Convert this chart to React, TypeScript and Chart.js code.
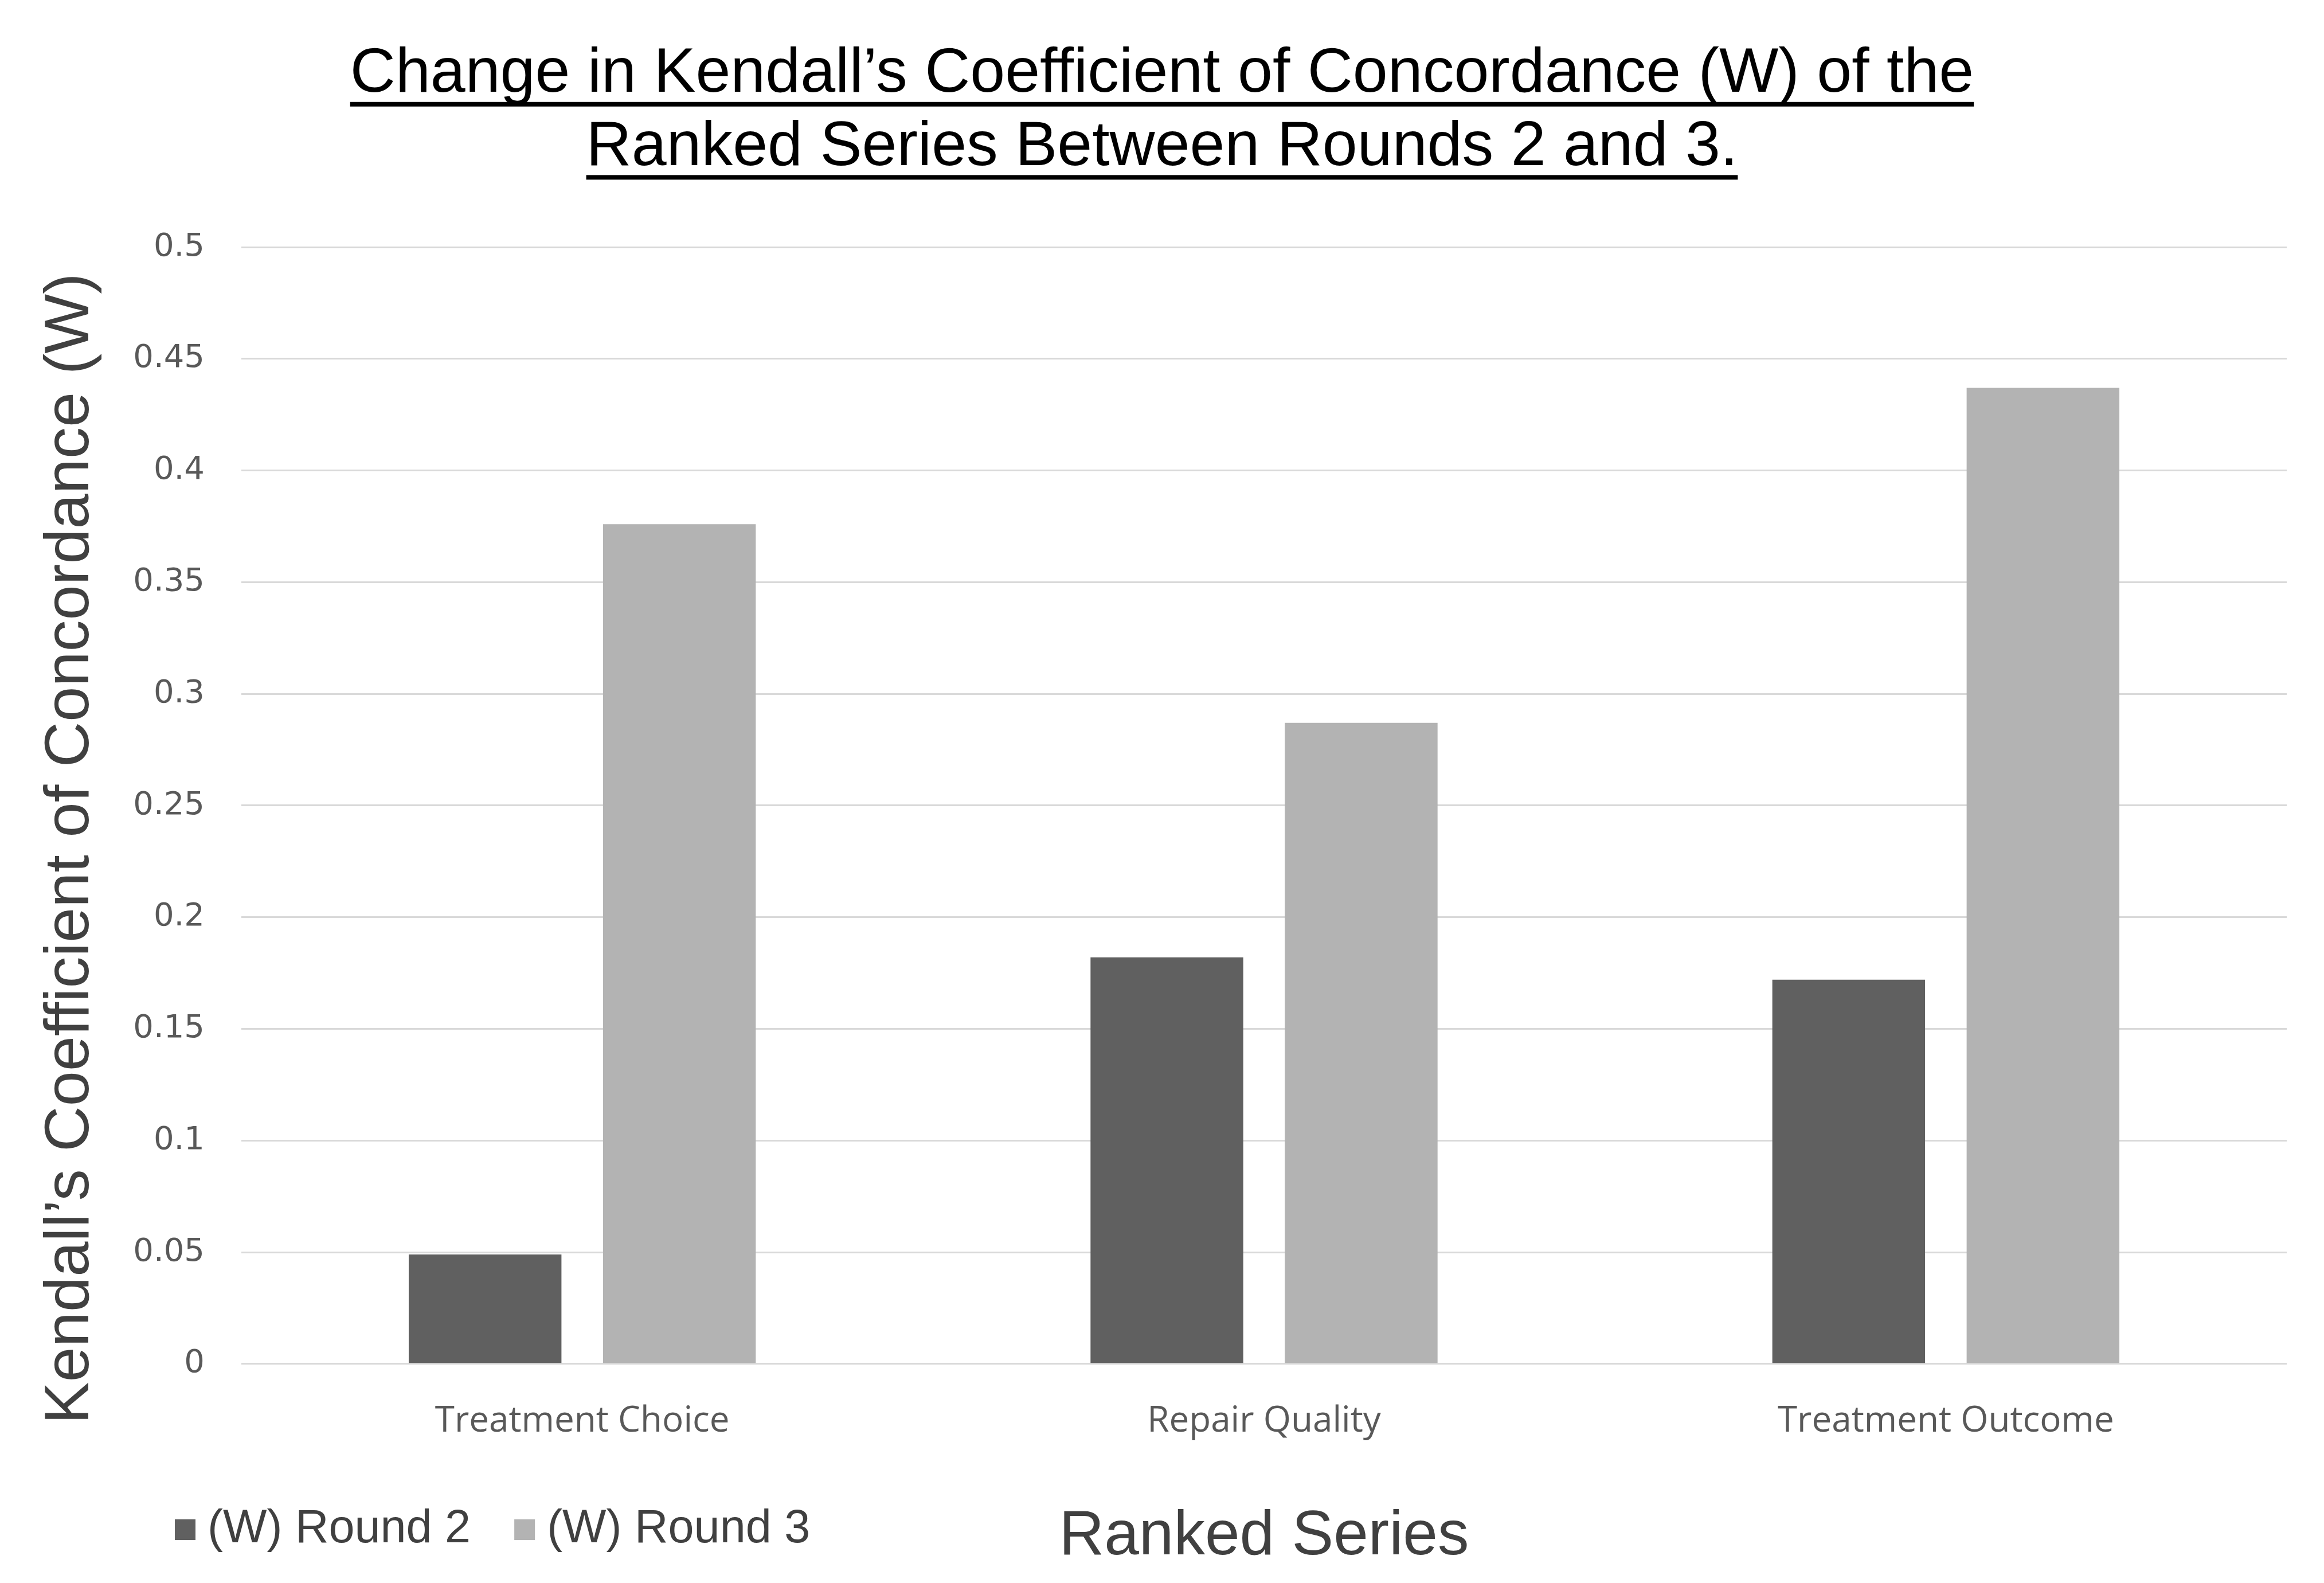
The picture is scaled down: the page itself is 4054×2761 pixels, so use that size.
import React, { useEffect, useRef } from "react";
import { Chart, registerables } from "chart.js";

Chart.register(...registerables);

const categories = ["Treatment Choice", "Repair Quality", "Treatment Outcome"];
const seriesLabels = ["(W) Round 2", "(W) Round 3"];
const round2Values = [0.049, 0.182, 0.172];
const round3Values = [0.376, 0.287, 0.437];
const seriesColors = ["#606060", "#b3b3b3"];
const yMin = 0;
const yMax = 0.5;
const yStep = 0.05;
const titleLines = [
  "Change in Kendall\u2019s Coefficient of Concordance (W) of the",
  "Ranked Series Between Rounds 2 and 3.",
];
const yAxisTitle = "Kendall\u2019s Coefficient of Concordance (W)";
const xAxisTitle = "Ranked Series";

const W = 4054;
const H = 2761;
const ARIAL = "'Liberation Sans', Arial, sans-serif";
const TITLE_SIZE = 109.5;
const TITLE_LH = 1.165;
const TITLE_PAD_TOP = 66;

const underlinePlugin = {
  id: "titleUnderline",
  afterDraw(chart: any) {
    const tb = chart.titleBlock;
    if (!tb) return;
    const ctx = chart.ctx;
    ctx.save();
    ctx.font = `${TITLE_SIZE}px ${ARIAL}`;
    ctx.fillStyle = "#000000";
    const lh = TITLE_SIZE * TITLE_LH;
    const cx = (tb.left + tb.right) / 2;
    titleLines.forEach((line, i) => {
      const w = ctx.measureText(line).width;
      const cy = tb.top + TITLE_PAD_TOP + lh * (i + 0.5);
      ctx.fillRect(cx - w / 2, cy + 48, w, 8);
    });
    ctx.restore();
  },
};

const yTitlePlugin = {
  id: "yTitle",
  afterDraw(chart: any) {
    const ctx = chart.ctx;
    ctx.save();
    ctx.translate(124, 1480);
    ctx.rotate(-Math.PI / 2);
    ctx.font = `110px ${ARIAL}`;
    ctx.fillStyle = "#404040";
    ctx.textAlign = "center";
    ctx.textBaseline = "middle";
    ctx.fillText(yAxisTitle, 0, 0);
    ctx.restore();
  },
};

const legendPlugin = {
  id: "bottomLegend",
  afterDraw(chart: any) {
    const ctx = chart.ctx;
    ctx.save();
    ctx.font = `81px ${ARIAL}`;
    ctx.textBaseline = "middle";
    ctx.textAlign = "left";
    const cy = 2668;
    const box = 36;
    let x = 305;
    chart.data.datasets.forEach((ds: any) => {
      ctx.fillStyle = ds.backgroundColor;
      ctx.fillRect(x, cy - box / 2, box, box);
      const tx = x + box + 21;
      ctx.fillStyle = "#404040";
      ctx.fillText(ds.label, tx, cy);
      x = tx + ctx.measureText(ds.label).width + 76;
    });
    ctx.restore();
  },
};

export default function App() {
  const canvasRef = useRef<HTMLCanvasElement | null>(null);

  useEffect(() => {
    const canvas = canvasRef.current;
    if (!canvas) return;
    const chart = new Chart(canvas, {
      type: "bar",
      data: {
        labels: categories,
        datasets: [
          {
            label: seriesLabels[0],
            data: round2Values,
            backgroundColor: seriesColors[0],
            categoryPercentage: 0.57,
            barPercentage: 0.786,
          },
          {
            label: seriesLabels[1],
            data: round3Values,
            backgroundColor: seriesColors[1],
            categoryPercentage: 0.57,
            barPercentage: 0.786,
          },
        ],
      },
      options: {
        responsive: false,
        animation: false,
        devicePixelRatio: 1,
        layout: { padding: { left: 65, right: 65, top: 0, bottom: 0 } },
        plugins: {
          legend: { display: false },
          tooltip: { enabled: false },
          title: {
            display: true,
            text: titleLines,
            color: "#000000",
            font: { family: ARIAL, size: TITLE_SIZE, lineHeight: TITLE_LH, weight: "normal" },
            padding: { top: TITLE_PAD_TOP, bottom: 110 },
          },
        },
        scales: {
          x: {
            grid: { display: false },
            border: { display: false },
            ticks: {
              color: "#595959",
              font: { family: "'Open Sans', sans-serif", size: 62, lineHeight: 1.2 },
              padding: 55,
            },
            title: {
              display: true,
              text: xAxisTitle,
              color: "#404040",
              font: { family: ARIAL, size: 109, lineHeight: 1.2 },
              padding: { top: 44, bottom: 15 },
            },
          },
          y: {
            min: yMin,
            max: yMax,
            border: { display: false },
            grid: { color: "#d9d9d9", lineWidth: 3, drawTicks: false },
            ticks: {
              stepSize: yStep,
              color: "#595959",
              font: { family: "'DejaVu Sans', sans-serif", size: 56 },
              padding: 64,
              callback: (v: any) => String(Number(Number(v).toFixed(2))),
            },
            afterFit: (scale: any) => {
              scale.width = 356;
            },
          },
        },
      },
      plugins: [underlinePlugin, yTitlePlugin, legendPlugin],
    });
    return () => chart.destroy();
  }, []);

  return (
    <div style={{ position: "absolute", left: 0, top: 0, width: W, height: H, background: "#ffffff" }}>
      <canvas ref={canvasRef} width={W} height={H} style={{ width: W, height: H, display: "block" }} />
    </div>
  );
}
